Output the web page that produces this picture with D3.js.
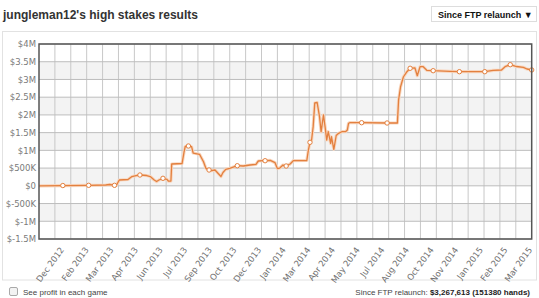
<!DOCTYPE html>
<html>
<head>
<meta charset="utf-8">
<script src="https://cdn.jsdelivr.net/npm/d3@7"></script>
<style>
  body { margin: 0; background: #fff; }
  svg { display: block; }
</style>
</head>
<body>
<svg id="chart" width="539" height="298"></svg>
<script>
// x ticks (one label every 31 units of the session index)
var tickLabels = ["Dec 2012","Feb 2013","Mar 2013","Apr 2013","Jun 2013","Jul 2013","Sep 2013","Oct 2013",
  "Dec 2013","Jan 2014","Mar 2014","Apr 2014","May 2014","Jul 2014","Aug 2014","Oct 2014",
  "Nov 2014","Jan 2015","Feb 2015","Mar 2015"];
var yTicks = [-1500, -1000, -500, 0, 500, 1000, 1500, 2000, 2500, 3000, 3500, 4000];
var yLabels = ["$-1.5M","$-1M","$-500K","$0","$500K","$1M","$1.5M","$2M","$2.5M","$3M","$3.5M","$4M"];

// cumulative profit ($K) against session index
var sessions = [0,30,62.5,84,89,95,98,101,112,117,122,127,135.5,140,145,148,151,154,156,161,163,166,167,180,182.5,184,188,192,194,202,207,210,214,217,221.5,225.5,229,231.5,235,240,249.5,257,265.5,273,276,282,284.5,291,297,300,303,307,311,316,320,337,339,341,343,345,347,350,353,355,358,360,362,364,367,368,371,374,377,381,386,388,389.5,391,406,438,451,452.5,455,458.5,463,467,473,476,479.5,483.5,488,496,517,529,561,571.5,582,586.5,593,601,609.5,614,620];
var profit = [0,8,14,23,37,14,37,164,178,262,285,305,291,262,164,121,164,192,212,183,130,135,615,629,953,1109,1123,1103,925,889,680,494,446,426,446,347,262,375,465,494,567,559,587,606,700,708,708,719,652,488,502,587,559,615,708,714,1010,1227,1292,1667,2336,2350,1949,1526,1997,1667,1292,1526,1199,1385,1030,1419,1481,1526,1532,1574,1763,1780,1780,1772,1772,2420,2795,3069,3219,3315,3329,3106,3360,3360,3258,3247,3230,3219,3219,3258,3267,3360,3416,3365,3343,3295,3268];
var markerAt = [30,62.5,95,127,156,188,214,249.5,284.5,311,341,406,438,467,496,529,561,593,620];

var data = sessions.map(function(s, i) { return {x: s, y: profit[i]}; });

var svg = d3.select("#chart");
var plotL = 39, plotR = 531.7, plotT = 44, plotB = 239;

var x = d3.scaleLinear().domain([0, 620]).range([plotL, plotR]);
var y = d3.scaleLinear().domain([-1500, 4000]).range([plotB, plotT]);

// title + dropdown button
svg.append("text")
  .attr("x", 3).attr("y", 19)
  .style("font", "bold 12px 'Liberation Sans', Arial, sans-serif")
  .attr("fill", "#333")
  .text("jungleman12's high stakes results");

svg.append("rect")
  .attr("x", 431.5).attr("y", 6.5).attr("width", 105).attr("height", 15)
  .attr("fill", "#fff").attr("stroke", "#ddd");
svg.append("text")
  .attr("x", 438).attr("y", 17.5)
  .style("font", "bold 9px 'Liberation Sans', Arial, sans-serif")
  .attr("fill", "#111")
  .text("Since FTP relaunch  \u25BC");

// outer panel
svg.append("rect")
  .attr("x", 2.5).attr("y", 31.5).attr("width", 534).attr("height", 248.5)
  .attr("fill", "#fff").attr("stroke", "#e2e2e2");

// alternating bands
var bands = d3.range(yTicks.length - 1).filter(function(i) { return i % 2 == 1; });
svg.append("g").selectAll("rect")
  .data(bands)
  .enter().append("rect")
  .attr("x", plotL).attr("width", plotR - plotL)
  .attr("y", function(i) { return y(yTicks[i + 1]); })
  .attr("height", function(i) { return y(yTicks[i]) - y(yTicks[i + 1]); })
  .attr("fill", "#f3f3f3");

// grid
var vGrid = d3.range(20, 620, 20);
svg.append("g").selectAll("line")
  .data(vGrid)
  .enter().append("line")
  .attr("x1", function(d) { return x(d); }).attr("x2", function(d) { return x(d); })
  .attr("y1", plotT).attr("y2", plotB)
  .attr("stroke", "#c8c8c8").attr("stroke-width", 1);

svg.append("g").selectAll("line")
  .data(yTicks)
  .enter().append("line")
  .attr("x1", plotL).attr("x2", plotR)
  .attr("y1", function(d) { return y(d); }).attr("y2", function(d) { return y(d); })
  .attr("stroke", "#bdbdbd").attr("stroke-width", 1);

// y axis labels
var yAxis = d3.axisLeft(y).tickValues(yTicks)
  .tickFormat(function(d, i) { return yLabels[i]; })
  .tickSize(0).tickPadding(3);
var yg = svg.append("g").attr("transform", "translate(" + plotL + ",0)").call(yAxis);
yg.select(".domain").remove();
yg.selectAll("text")
  .style("font", "8.5px 'DejaVu Sans', Verdana, sans-serif")
  .attr("fill", "#7a7a7a");

// x axis labels
var xAxis = d3.axisBottom(x)
  .tickValues(tickLabels.map(function(d, i) { return (i + 1) * 31; }))
  .tickFormat(function(d, i) { return tickLabels[i]; })
  .tickSize(0);
var xg = svg.append("g").attr("transform", "translate(0," + plotB + ")").call(xAxis);
xg.select(".domain").remove();
xg.selectAll("text")
  .style("font", "8.5px 'DejaVu Sans', Verdana, sans-serif")
  .attr("fill", "#6f6f6f")
  .attr("text-anchor", "end")
  .attr("dy", "0")
  .attr("transform", "translate(-2,9) rotate(-54)");

// line
var line = d3.line()
  .x(function(d) { return x(d.x); })
  .y(function(d) { return y(d.y); });

svg.append("path").datum(data)
  .attr("d", line)
  .attr("fill", "none")
  .attr("stroke", "#f8d7c0")
  .attr("stroke-width", 3.2)
  .attr("stroke-linejoin", "round");
svg.append("path").datum(data)
  .attr("d", line)
  .attr("fill", "none")
  .attr("stroke", "#e3803f")
  .attr("stroke-width", 1.3)
  .attr("stroke-linejoin", "round");

svg.append("g").selectAll("circle")
  .data(data.filter(function(d) { return markerAt.indexOf(d.x) >= 0; }))
  .enter().append("circle")
  .attr("cx", function(d) { return x(d.x); })
  .attr("cy", function(d) { return y(d.y); })
  .attr("r", 2.2)
  .attr("fill", "#fff")
  .attr("stroke", "#e3803f")
  .attr("stroke-width", 1);

// plot frame
svg.append("rect")
  .attr("x", plotL).attr("y", plotT).attr("width", plotR - plotL).attr("height", plotB - plotT)
  .attr("fill", "none").attr("stroke", "#555").attr("stroke-width", 1.5);

// footer
svg.append("rect")
  .attr("x", 9.5).attr("y", 287.5).attr("width", 8).attr("height", 8).attr("rx", 1.5)
  .attr("fill", "#f3f3f3").attr("stroke", "#a9a9a9");
svg.append("text")
  .attr("x", 23).attr("y", 295)
  .style("font", "8px 'Liberation Sans', Arial, sans-serif")
  .attr("fill", "#444")
  .text("See profit in each game");

var foot = svg.append("text")
  .attr("x", 530).attr("y", 294.5)
  .attr("text-anchor", "end")
  .style("font", "8px 'Liberation Sans', Arial, sans-serif")
  .attr("fill", "#444");
foot.append("tspan").text("Since FTP relaunch: ");
foot.append("tspan").attr("font-weight", "bold").attr("fill", "#222").text("$3,267,613 (151380 hands)");
</script>
</body>
</html>
